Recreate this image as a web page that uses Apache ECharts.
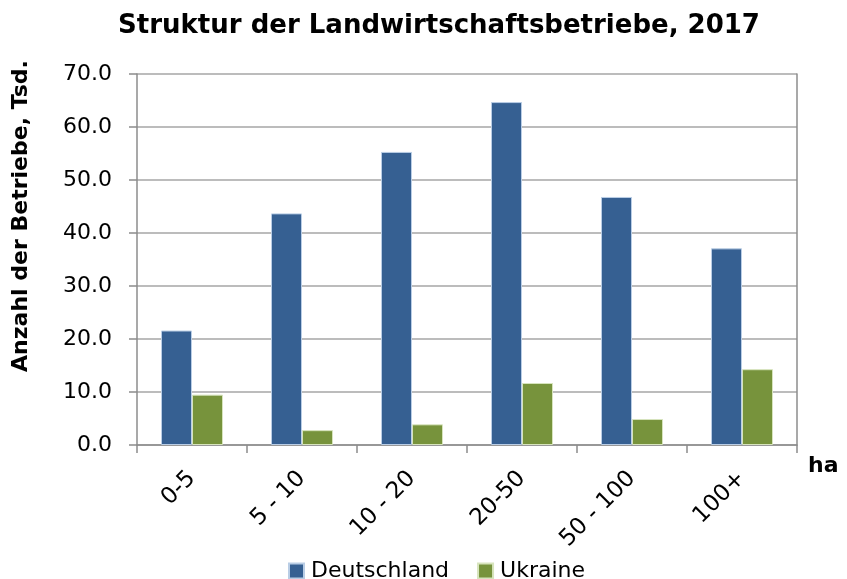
<!DOCTYPE html>
<html>
<head>
<meta charset="utf-8">
<script src="https://cdn.jsdelivr.net/npm/echarts@6/dist/echarts.min.js"></script>
<style>
  html, body { margin: 0; padding: 0; background: #fff; }
</style>
</head>
<body>
<div id="chart" style="width: 847px; height: 579px;"></div>
<script>
// Betriebsgrößenklassen (ha)
const categories = ['0-5', '5 - 10', '10 - 20', '20-50', '50 - 100', '100+']
// Anzahl der Betriebe, Tsd.
const deutschland = [21.6, 43.7, 55.3, 64.7, 46.8, 37.1]
const ukraine = [9.5, 2.8, 3.9, 11.7, 4.9, 14.3]
const yTicks = { min: 0, max: 70, interval: 10 }

const font = 'Tahoma, "DejaVu Sans", sans-serif'

const myChart = echarts.init(document.getElementById('chart'))
const option = {
  backgroundColor: '#fff',
  animation: false,
  textStyle: { fontFamily: font },
  title: {
    text: 'Struktur der Landwirtschaftsbetriebe, 2017',
    left: 434,
    textAlign: 'center',
    top: 8,
    textStyle: { fontSize: 26, fontWeight: 'bold', color: '#000', fontFamily: font }
  },
  legend: {
    data: ['Deutschland', 'Ukraine'],
    top: 555,
    left: 283,
    itemWidth: 15,
    itemHeight: 15,
    itemGap: 28,
    icon: 'rect',
    textStyle: { fontSize: 22, color: '#000', fontFamily: font, padding: [0, 0, 0, 2] }
  },
  grid: { left: 137, right: 50, top: 74, bottom: 134 },
  xAxis: {
    type: 'category',
    data: categories,
    axisLine: { lineStyle: { color: '#8c8c8c', width: 1.5 } },
    axisTick: { show: true, length: 8, lineStyle: { color: '#8c8c8c', width: 1.5 } },
    axisLabel: { rotate: 45, margin: 30, fontSize: 23, color: '#000', fontFamily: font }
  },
  yAxis: [{
    type: 'value',
    min: yTicks.min,
    max: yTicks.max,
    interval: yTicks.interval,
    axisLine: { show: true, lineStyle: { color: '#8c8c8c', width: 1.5 } },
    axisTick: { show: true, length: 8, lineStyle: { color: '#8c8c8c', width: 1.5 } },
    axisLabel: {
      margin: 25, fontSize: 22, color: '#000', fontFamily: font,
      formatter: v => v.toFixed(1)
    },
    splitLine: { lineStyle: { color: '#a6a6a6', width: 1.5 } }
  }, {
    type: 'value',
    min: yTicks.min,
    max: yTicks.max,
    interval: yTicks.interval,
    position: 'right',
    axisLine: { show: true, lineStyle: { color: '#8c8c8c', width: 1.5 } },
    axisTick: { show: false },
    axisLabel: { show: false },
    splitLine: { show: false }
  }],
  graphic: [{
    type: 'text',
    x: 21,
    y: 216,
    rotation: Math.PI / 2,
    style: {
      text: 'Anzahl der Betriebe, Tsd.',
      font: 'bold 22px ' + font,
      fill: '#000',
      textAlign: 'center',
      textVerticalAlign: 'middle'
    }
  }, {
    type: 'text',
    x: 808,
    y: 466,
    style: {
      text: 'ha',
      font: 'bold 22px ' + font,
      fill: '#000',
      textAlign: 'left',
      textVerticalAlign: 'middle'
    }
  }],
  series: [{
    name: 'Deutschland',
    type: 'bar',
    data: deutschland,
    barWidth: 31,
    barGap: '0%',
    itemStyle: { color: '#366092', borderColor: '#b9cde5', borderWidth: 1 }
  }, {
    name: 'Ukraine',
    type: 'bar',
    data: ukraine,
    barWidth: 31,
    itemStyle: { color: '#77933c', borderColor: '#d7e4bd', borderWidth: 1 }
  }]
}

myChart.setOption(option)

window.addEventListener('resize', () => {
  myChart.resize()
})
</script>
</body>
</html>
